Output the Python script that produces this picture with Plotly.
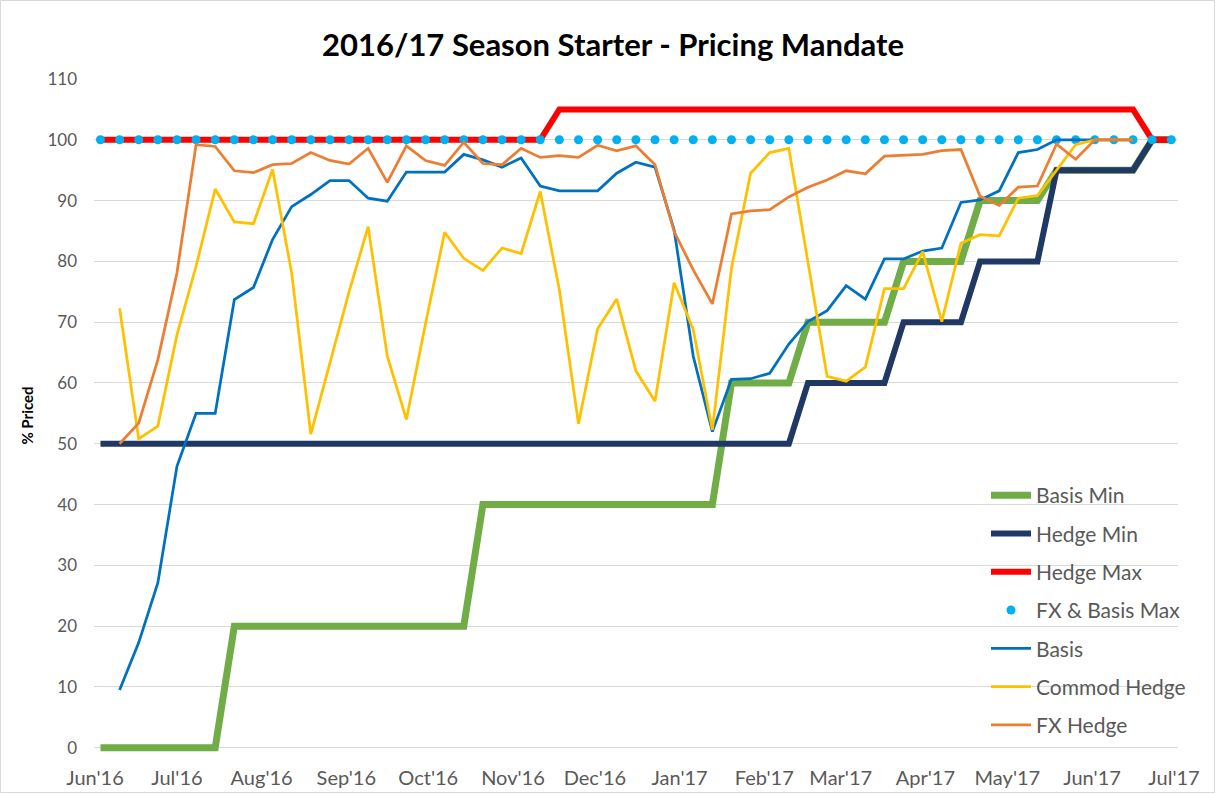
import plotly.graph_objects as go

# ---------------- data ----------------
week_dates = ["2016-06-03", "2016-06-10", "2016-06-17", "2016-06-24", "2016-07-01", "2016-07-08",
              "2016-07-15", "2016-07-22", "2016-07-29", "2016-08-05", "2016-08-12", "2016-08-19",
              "2016-08-26", "2016-09-02", "2016-09-09", "2016-09-16", "2016-09-23", "2016-09-30",
              "2016-10-07", "2016-10-14", "2016-10-21", "2016-10-28", "2016-11-04", "2016-11-11",
              "2016-11-18", "2016-11-25", "2016-12-02", "2016-12-09", "2016-12-16", "2016-12-23",
              "2016-12-30", "2017-01-06", "2017-01-13", "2017-01-20", "2017-01-27", "2017-02-03",
              "2017-02-10", "2017-02-17", "2017-02-24", "2017-03-03", "2017-03-10", "2017-03-17",
              "2017-03-24", "2017-03-31", "2017-04-07", "2017-04-14", "2017-04-21", "2017-04-28",
              "2017-05-05", "2017-05-12", "2017-05-19", "2017-05-26", "2017-06-02", "2017-06-09",
              "2017-06-16", "2017-06-23", "2017-06-30"]

basis_min = [0, 0, 0, 0, 0, 0, 0,
             20, 20, 20, 20, 20, 20, 20, 20, 20, 20, 20, 20, 20,
             40, 40, 40, 40, 40, 40, 40, 40, 40, 40, 40, 40, 40,
             60, 60, 60, 60,
             70, 70, 70, 70, 70,
             80, 80, 80, 80,
             90, 90, 90, 90,
             95, 95, 95, 95, 95,
             100, 100]

hedge_min = [50, 50, 50, 50, 50, 50, 50, 50, 50, 50, 50, 50, 50, 50, 50, 50, 50, 50, 50, 50,
             50, 50, 50, 50, 50, 50, 50, 50, 50, 50, 50, 50, 50, 50, 50, 50, 50,
             60, 60, 60, 60, 60,
             70, 70, 70, 70,
             80, 80, 80, 80,
             95, 95, 95, 95, 95,
             100, 100]

hedge_max = [100, 100, 100, 100, 100, 100, 100, 100, 100, 100, 100, 100,
             100, 100, 100, 100, 100, 100, 100, 100, 100, 100, 100, 100,
             105, 105, 105, 105, 105, 105, 105, 105, 105, 105, 105, 105, 105, 105, 105, 105,
             105, 105, 105, 105, 105, 105, 105, 105, 105, 105, 105, 105, 105, 105, 105,
             100, 100]

fx_basis_max = [100, 100, 100, 100, 100, 100, 100, 100, 100, 100, 100, 100, 100, 100, 100,
                100, 100, 100, 100, 100, 100, 100, 100, 100, 100, 100, 100, 100, 100, 100,
                100, 100, 100, 100, 100, 100, 100, 100, 100, 100, 100, 100, 100, 100, 100,
                100, 100, 100, 100, 100, 100, 100, 100, 100, 100, 100, 100]

basis = [None, 9.5, 17.3, 27.1, 46.3, 55.0, 55.0, 73.7, 75.7, 83.6, 89.0, 91.0, 93.3, 93.3,
         90.4, 89.9, 94.7, 94.7, 94.7, 97.6, 96.7, 95.5, 97.0, 92.4, 91.6, 91.6, 91.6, 94.5,
         96.3, 95.5, 85.2, 64.4, 52.0, 60.6, 60.7, 61.6, 66.4, 70.1, 71.9, 76.0, 73.8, 80.4,
         80.4, 81.7, 82.2, 89.7, 90.1, 91.6, 97.9, 98.4, 100, 100, 100, 100, 100, None, None]

commod_hedge = [None, 72.3, 50.8, 52.9, 67.9, 79.2, 91.9, 86.5, 86.2, 95.1, 78.1, 51.6, 63.4,
                75.0, 85.7, 64.4, 54.0, 69.8, 84.8, 80.5, 78.5, 82.2, 81.3, 91.5, 75.3, 53.3,
                68.9, 73.8, 62.0, 57.0, 76.5, 68.8, 52.3, 78.9, 94.5, 97.9, 98.6, 79.7, 61.1,
                60.3, 62.6, 75.5, 75.5, 81.6, 70.1, 83.0, 84.4, 84.2, 90.4, 90.8, 95.1, 99.2,
                100, 100, 100, None, None]

fx_hedge = [None, 50.0, 53.4, 63.8, 78.1, 99.2, 98.9, 94.9, 94.6, 95.9, 96.1, 97.9, 96.6, 96.0,
            98.6, 93.0, 99.0, 96.6, 95.8, 99.6, 96.1, 95.9, 98.6, 97.1, 97.4, 97.1, 99.1, 98.2,
            99.0, 95.9, 84.9, 78.6, 73.0, 87.8, 88.3, 88.5, 90.6, 92.2, 93.4, 94.9, 94.4, 97.3,
            97.4, 97.6, 98.2, 98.4, 90.7, 89.2, 92.2, 92.4, 99.3, 96.8, 100, 100, 100, None, None]

# ---------------- figure ----------------
FONT = "Lato, 'Open Sans', Arial, sans-serif"
GREY = "#595959"
W, H = 1216, 794
ML, MR, MT, MB = 94, 38, 79, 42
PW, PH = W - ML - MR, H - MT - MB

fig = go.Figure()

def add_line(y, name, color, width, group):
    fig.add_trace(go.Scatter(
        x=week_dates, y=y, name=name, mode="lines",
        line=dict(color=color, width=width),
        legendgroup=group, hoverinfo="skip"))

add_line(basis_min, "Basis Min", "#70AD47", 7, "a")
add_line(hedge_min, "Hedge Min", "#1F3864", 6, "b")
add_line(hedge_max, "Hedge Max", "#FF0000", 6, "c")
fig.add_trace(go.Scatter(
    x=week_dates, y=fx_basis_max, name="FX & Basis Max", mode="markers",
    marker=dict(color="#00B0F0", size=9, line=dict(width=0)),
    legendgroup="d", hoverinfo="skip", cliponaxis=False))
add_line(basis, "Basis", "#0070C0", 2.75, "e")
add_line(commod_hedge, "Commod Hedge", "#FFC000", 2.75, "f")
add_line(fx_hedge, "FX Hedge", "#ED7D31", 2.75, "g")

fig.update_layout(
    width=W, height=H,
    paper_bgcolor="white", plot_bgcolor="white",
    margin=dict(l=ML, r=MR, t=MT, b=MB, autoexpand=False),
    font=dict(family=FONT, color=GREY, size=16),
    title=dict(text="<b>2016/17 Season Starter - Pricing Mandate</b>",
               x=613 / W, xanchor="center", y=1 - 45 / H, yanchor="middle",
               font=dict(family=FONT, size=31, color="#000000")),
    xaxis=dict(type="date", range=["2016-05-31 15:12", "2017-07-02 11:00"],
               tick0="2016-06-01", dtick="M1", tickformat="%b'%y",
               showgrid=False, zeroline=False, showline=False, automargin=False,
               ticks="", ticklabelstandoff=12,
               tickfont=dict(size=20, color=GREY), fixedrange=True),
    yaxis=dict(range=[-0.7, 110], tickmode="array", tickvals=list(range(0, 111, 10)),
               showgrid=True, gridcolor="#D9D9D9", gridwidth=1,
               zeroline=True, zerolinecolor="#D9D9D9", zerolinewidth=1,
               showline=False, ticks="", ticklabelstandoff=16, automargin=False,
               tickfont=dict(size=17, color=GREY), fixedrange=True,
               title=dict(text="<b>% Priced</b>", font=dict(size=15, color="#000000"), standoff=10)),
    showlegend=True,
    legend=dict(x=(986 - ML) / PW, y=(H - MB - 475) / PH, xanchor="left", yanchor="top",
                bgcolor="rgba(0,0,0,0)", font=dict(size=21, color=GREY),
                traceorder="grouped", tracegroupgap=8, itemwidth=40),
    shapes=[dict(type="rect", xref="paper", yref="paper",
                 x0=(-ML + 0.5) / PW, x1=1 + (MR - 1.5) / PW,
                 y0=(-MB + 1.5) / PH, y1=1 + (MT - 0.5) / PH,
                 line=dict(color="#D9D9D9", width=1), fillcolor="rgba(0,0,0,0)")],
)

fig.write_html("out.html", config={"displayModeBar": False, "staticPlot": False},
               post_script="document.body.style.margin='0';document.body.style.overflow='hidden';")
